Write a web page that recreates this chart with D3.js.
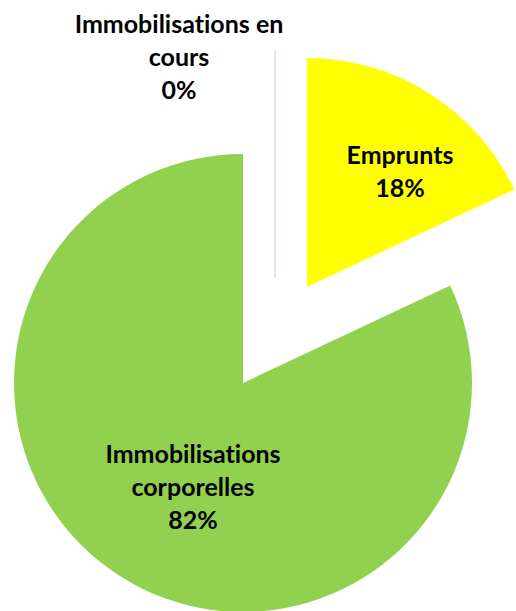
<!DOCTYPE html>
<html>
<head>
<meta charset="utf-8">
<script src="https://cdn.jsdelivr.net/npm/d3@7"></script>
<style>
  html, body { margin: 0; padding: 0; background: #fff; }
  svg { display: block; }
  text.lbl { font-variant-ligatures: none; font-feature-settings: "liga" 0, "clig" 0; }
</style>
</head>
<body>
<svg id="chart" width="516" height="611"></svg>
<script>
// Data
const categories = ["Immobilisations en cours", "Emprunts", "Immobilisations corporelles"];
const values = [0, 18, 82];
const labelLines = [["Immobilisations en", "cours"], ["Emprunts"], ["Immobilisations", "corporelles"]];
const colors = ["#ddd9c3", "#ffff00", "#92d050"];

// Layout
const cx = 243, cy = 383, R = 229;
const explode = [[32, -105], [64, -96], [0, 0]];
// label block centres, relative to the pie centre
const labelAt = [[179 - 243, 56 - 383], [400 - 243, 170 - 383], [193 - 243, 486 - 383]];
const fontSize = 25, lineH = 33;

const svg = d3.select("#chart");
const pie = d3.pie().sort(null).value(d => d);
const arc = d3.arc().innerRadius(0).outerRadius(R);
const arcs = pie(values);

const g = svg.append("g").attr("transform", `translate(${cx},${cy})`);

// Slices
g.selectAll("g.slice").data(arcs).join("g")
    .attr("class", "slice")
    .attr("transform", (d, i) => `translate(${explode[i][0]},${explode[i][1]})`)
    .each(function(d, i) {
        const s = d3.select(this);
        if (d.value === 0) {
            // zero-sized slice: only its radius edge is visible
            const a = d.startAngle;
            s.append("line")
                .attr("x1", 0).attr("y1", 0)
                .attr("x2", R * Math.sin(a)).attr("y2", -R * Math.cos(a))
                .attr("stroke", colors[i]).attr("stroke-width", 1.2);
        } else {
            s.append("path").attr("d", arc(d)).attr("fill", colors[i]);
        }
    });

// Labels
const pct = d3.format(".0%");
const total = d3.sum(values);

const labels = g.selectAll("text.lbl").data(arcs).join("text")
    .attr("class", "lbl")
    .attr("text-anchor", "middle")
    .attr("font-family", "Lato, 'Open Sans', sans-serif")
    .attr("font-weight", 700)
    .attr("font-size", fontSize + "px")
    .attr("fill", "#000");

labels.each(function(d, i) {
    const t = d3.select(this);
    const lines = labelLines[i].concat(pct(d.value / total));
    const [lx, ly] = labelAt[i];
    const y0 = ly - (lines.length - 1) * lineH / 2;
    lines.forEach((ln, j) => {
        t.append("tspan").attr("x", lx).attr("y", y0 + j * lineH)
            .attr("dominant-baseline", "central").text(ln);
    });
});
</script>
</body>
</html>
